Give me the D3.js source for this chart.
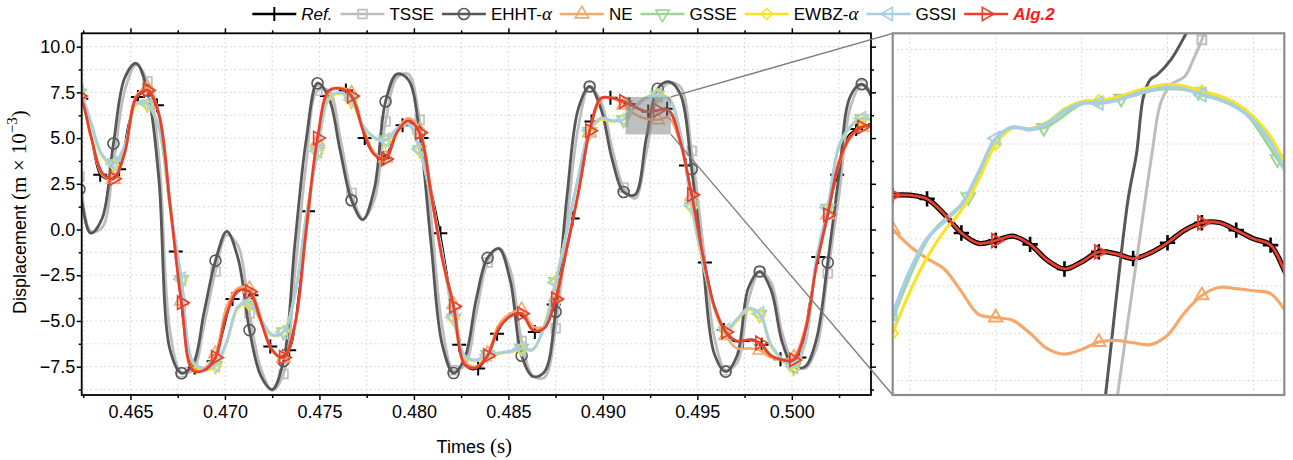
<!DOCTYPE html>
<html><head><meta charset="utf-8">
<script src="https://cdn.jsdelivr.net/npm/d3@7/dist/d3.min.js"></script>
<style>
html,body{margin:0;padding:0;background:#fff;}
svg{display:block;font-family:"Liberation Sans",Arial,Helvetica,sans-serif;}
</style></head><body>
<svg id="chart" width="1293" height="460"></svg>
<script>
// ---------------- DATA ----------------
// main panel sampling (s)
const mainTimes=[0.4617,0.4623,0.4629,0.4635,0.4641,0.4647,0.4653,0.4659,0.4665,0.4671,0.4677,0.4683,0.4689,0.4695,0.4701,0.4707,0.4713,0.4719,0.4725,0.4731,0.4737,0.4743,0.4749,0.4755,0.4761,0.4767,0.4773,0.4779,0.4785,0.4791,0.4797,0.4803,0.4809,0.4815,0.4821,0.4827,0.4833,0.4839,0.4845,0.4851,0.4857,0.4863,0.4869,0.4875,0.4881,0.4887,0.4893,0.4899,0.4905,0.4911,0.4917,0.4923,0.4929,0.4935,0.4941,0.4947,0.4953,0.4959,0.4965,0.4971,0.4977,0.4983,0.4989,0.4995,0.5001,0.5007,0.5013,0.5019,0.5025,0.5031,0.5037,0.5043,0.5049];
const refTimes=[0.4614,0.4619,0.4624,0.4629,0.4634,0.4639,0.4644,0.4649,0.4654,0.4659,0.4664,0.4669,0.4674,0.4679,0.4684,0.4689,0.4694,0.4699,0.4704,0.4709,0.4714,0.4719,0.4724,0.4729,0.4734,0.4739,0.4744,0.4749,0.4754,0.4759,0.4764,0.4769,0.4774,0.4779,0.4784,0.4789,0.4794,0.4799,0.4804,0.4809,0.4814,0.4819,0.4824,0.4829,0.4834,0.4839,0.4844,0.4849,0.4854,0.4859,0.4864,0.4869,0.4874,0.4879,0.4884,0.4889,0.4894,0.4899,0.4904,0.4909,0.4914,0.4919,0.4924,0.4929,0.4934,0.4939,0.4944,0.4949,0.4954,0.4959,0.4964,0.4969,0.4974,0.4979,0.4984,0.4989,0.4994,0.4999,0.5004,0.5009,0.5014,0.5019,0.5024,0.5029,0.5034,0.5039,0.5044,0.5049];
// displacement (m x 1e-3)
const refMain=[7.9,7.6,7.15,5.15,3.0,2.75,3.3,5.8,7.25,7.55,6.8,3.0,-1.2,-5.8,-7.55,-7.6,-7.2,-5.6,-3.8,-3.3,-3.6,-5.0,-6.4,-6.95,-6.6,-3.5,1.0,4.8,7.3,7.75,7.6,7.0,5.0,4.1,3.9,4.9,5.7,5.8,5.0,2.3,-0.2,-3.3,-6.3,-7.6,-7.6,-6.9,-5.7,-4.9,-4.6,-4.9,-5.6,-5.4,-4.1,-1.8,0.6,3.0,5.9,7.2,7.2,7.05,6.85,6.6,6.45,6.5,6.6,5.6,3.5,0.9,-1.8,-4.2,-5.5,-6.1,-6.1,-6.0,-6.3,-6.9,-7.1,-7.13,-7.0,-4.2,-1.5,0.8,3.0,5.0,5.5,5.7,5.75,5.75];
const tsseMain=[5.8,2.9,-0.1,0.1,3.6,7.6,9.0,8.1,4.0,-5.6,-7.8,-7.7,-5.2,-2.3,-0.3,-0.9,-4.6,-7.6,-8.8,-7.9,-2.4,3.6,7.6,7.6,5.0,2.0,0.6,1.6,5.9,8.3,8.5,6.0,0.8,-5.3,-7.7,-7.4,-4.6,-1.8,-1.0,-2.2,-6.1,-8.0,-8.1,-5.4,0.4,5.6,7.8,7.0,4.4,2.3,1.7,4.2,7.3,8.0,7.8,4.3,-0.8,-5.9,-7.7,-7.3,-3.9,-2.3,-2.9,-5.7,-7.3,-7.6,-6.5,-2.4,1.9,6.7,7.9,7.4,5.6];
const ehhtMain=[5.5,2.2,-0.2,0.6,4.7,8.3,9.09,7.6,2.8,-6.6,-7.86,-7.4,-4.5,-1.7,-0.1,-1.6,-5.5,-8.0,-8.75,-7.2,-0.8,4.9,8.0,7.2,4.3,1.6,0.53,2.2,7.0,8.5,8.2,5.3,-0.7,-6.3,-7.85,-7.0,-3.8,-1.55,-1.05,-2.8,-6.9,-8.04,-7.8,-4.5,1.8,6.6,7.82,6.6,3.8,2.05,1.9,5.0,7.7,8.08,7.4,3.3,-1.9,-6.8,-7.77,-6.9,-3.2,-2.3,-3.3,-6.2,-7.5,-7.5,-6.0,-1.8,3.0,7.3,7.95,7.1,5.0];
const neMain=[7.6,7.3,5.1,3.0,2.75,4.3,7.3,7.75,6.4,1.5,-3.9,-7.6,-7.6,-6.8,-4.2,-3.2,-3.25,-4.8,-6.6,-7.05,-5.3,-0.2,4.8,7.5,7.75,7.45,5.6,4.2,3.9,5.4,6.1,5.45,2.2,-1.5,-4.1,-7.2,-7.5,-6.8,-5.2,-4.6,-4.4,-5.3,-5.3,-3.7,-1.0,2.0,5.3,7.1,7.2,6.8,6.3,6.05,6.0,6.1,4.7,1.8,-1.5,-4.3,-5.8,-6.5,-6.5,-6.6,-7.0,-7.1,-7.0,-5.4,-1.9,0.8,3.6,5.0,5.6,5.75,5.8];
const gsseMain=[7.75,7.45,5.85,4.05,3.6,4.55,6.85,6.85,5.55,1.15,-2.75,-7.25,-7.65,-7.45,-6.15,-4.25,-4.05,-4.95,-5.8,-5.6,-3.55,0.75,4.25,7.15,7.45,7.05,5.65,5.0,4.9,5.5,5.8,4.35,1.75,-1.35,-4.85,-6.95,-7.15,-6.85,-6.75,-6.7,-6.5,-6.55,-5.25,-2.85,-0.05,2.85,5.35,6.05,5.95,6.0,6.7,7.2,7.35,7.15,5.25,1.25,-1.85,-4.3,-5.55,-4.95,-4.35,-4.65,-6.35,-7.15,-7.55,-6.25,-1.65,1.15,4.55,5.6,6.05,6.0,5.9];
const ewbzMain=[7.7,7.4,5.8,4.0,3.55,4.5,6.8,6.8,5.5,1.1,-2.8,-7.3,-7.7,-7.5,-6.2,-4.3,-4.1,-5.0,-5.8,-5.55,-3.5,0.8,4.2,7.1,7.45,7.0,5.6,5.0,4.85,5.45,5.75,4.3,1.7,-1.4,-4.9,-7.0,-7.2,-6.9,-6.8,-6.7,-6.55,-6.6,-5.2,-2.8,0.0,2.8,5.3,6.0,5.9,6.05,6.75,7.25,7.4,7.2,5.2,1.2,-1.9,-4.3,-5.6,-5.0,-4.4,-4.7,-6.4,-7.2,-7.6,-6.3,-1.7,1.1,4.5,5.6,6.0,5.95,5.85];
const gssiMain=[7.8,7.5,5.9,4.1,3.6,4.6,6.9,6.88,5.6,1.2,-2.7,-7.2,-7.6,-7.4,-6.1,-4.2,-4.0,-4.9,-5.75,-5.6,-3.6,0.7,4.3,7.2,7.48,7.1,5.7,5.05,4.9,5.5,5.8,4.4,1.8,-1.3,-4.8,-6.9,-7.13,-6.85,-6.75,-6.65,-6.5,-6.55,-5.3,-2.9,-0.1,2.9,5.4,6.1,5.95,6.0,6.7,7.2,7.35,7.15,5.3,1.3,-1.8,-4.25,-5.5,-4.9,-4.3,-4.6,-6.3,-7.1,-7.5,-6.2,-1.6,1.2,4.6,5.65,6.08,6.0,5.9];
const alg2Main=[7.6,7.3,5.15,3.1,2.78,4.2,7.2,7.62,6.3,1.3,-4.0,-7.7,-7.7,-7.0,-4.6,-3.35,-3.4,-5.0,-6.6,-7.0,-5.2,0.0,5.0,7.6,7.7,7.3,5.45,4.1,3.85,5.3,5.95,5.3,2.0,-1.6,-4.2,-7.4,-7.55,-6.9,-5.4,-4.75,-4.6,-5.5,-5.4,-3.8,-1.0,2.0,5.4,7.18,7.18,7.0,6.7,6.45,6.52,6.5,4.8,1.9,-1.45,-4.2,-5.6,-6.1,-6.04,-6.2,-6.9,-7.13,-7.13,-5.6,-2.0,0.8,3.7,5.1,5.6,5.72,5.75];

// inset (zoomed) panel
const insetTimes=[0.4914,0.4915,0.4916,0.4917,0.4918,0.4919,0.4920,0.4921,0.4922,0.4923,0.4924,0.4925,0.4926,0.4927,0.4928,0.4929,0.4930,0.4931,0.4932,0.4933,0.4934,0.4935,0.4936,0.4937,0.4938];
const refInset=[6.23,6.23,6.21,6.13,6.03,5.975,5.99,6.013,5.97,5.886,5.84,5.877,5.93,5.92,5.895,5.925,5.978,6.045,6.084,6.085,6.045,6.0,5.966,5.8,5.68];
const alg2Inset=[6.23,6.23,6.21,6.13,6.03,5.975,5.99,6.013,5.97,5.886,5.84,5.877,5.93,5.92,5.895,5.925,5.978,6.045,6.084,6.085,6.045,6.0,5.966,5.8,5.68];
const neInset=[6.05,5.96,5.895,5.84,5.72,5.6,5.583,5.568,5.5,5.419,5.39,5.415,5.454,5.463,5.45,5.44,5.49,5.61,5.7,5.742,5.736,5.725,5.71,5.6,5.45];
const gssiInset=[5.6,5.83,6.0,6.09,6.18,6.35,6.53,6.59,6.575,6.61,6.675,6.715,6.716,6.73,6.76,6.785,6.8,6.79,6.76,6.735,6.695,6.625,6.51,6.33,6.15];
const ewbzInset=[5.5,5.72,5.9,6.04,6.15,6.31,6.5,6.585,6.58,6.615,6.685,6.725,6.73,6.745,6.775,6.8,6.815,6.805,6.78,6.755,6.715,6.645,6.54,6.37,6.2];
const gsseInsetTimes=[0.49139,0.49162,0.49184,0.49206,0.49228,0.49251,0.49273,0.49296,0.49318,0.49341,0.49364,0.49386];
const gsseInset=[5.55,6.02,6.22,6.57,6.585,6.715,6.74,6.79,6.775,6.7,6.42,6.1];
const ehhtInsetTimes=[0.4925,0.49264,0.49277,0.49282,0.49286,0.4929,0.49294,0.49302,0.49311,0.4932];
const ehhtInset=[4.1,5.18,6.204,6.451,6.751,6.84,6.866,6.946,7.087,7.25];
const tsseInsetTimes=[0.4926,0.49271,0.49287,0.49291,0.49296,0.49302,0.4931,0.49315,0.4932,0.4933];
const tsseInset=[4.45,5.18,6.204,6.451,6.716,6.813,6.857,6.946,7.05,7.3];

// axes
const xMajorTicks=[0.465,0.470,0.475,0.480,0.485,0.490,0.495,0.500];
const xMinorTicks=[0.4625,0.4675,0.4725,0.4775,0.4825,0.4875,0.4925,0.4975,0.5025];
const yMajorTicks=[-7.5,-5,-2.5,0,2.5,5,7.5,10];
const yMinorTicks=[-8.75,-6.25,-3.75,-1.25,1.25,3.75,6.25,8.75];
const insetGridX=[0.4915,0.4920,0.4925,0.4930,0.4935];
const insetGridY=[5.25,5.5,5.75,6.0,6.25,6.5,6.75,7.0];
const zoomBoxX=[0.4912,0.4936];
const zoomBoxY=[5.2,7.25];

// ---------------- DRAW ----------------
const svg=d3.select('#chart');
const P={l:81.7,t:33.3,r:871,b:395};
const I={l:892.7,t:33.3,r:1284.3,b:395};
const x=d3.scaleLinear().domain([0.46242,0.50419]).range([P.l,P.r]);
const y=d3.scaleLinear().domain([-9.05,10.73]).range([P.b,P.t]);
const xi=d3.scaleLinear().domain([0.4914,0.49368]).range([I.l,I.r]);
const yi=d3.scaleLinear().domain([5.174,7.085]).range([I.b,I.t]);

const defs=svg.append('defs');
defs.append('clipPath').attr('id','clipMain').append('rect')
  .attr('x',P.l).attr('y',P.t).attr('width',P.r-P.l).attr('height',P.b-P.t);
defs.append('clipPath').attr('id','clipInset').append('rect')
  .attr('x',I.l).attr('y',I.t).attr('width',I.r-I.l).attr('height',I.b-I.t);

const COL={ref:'#000000',tsse:'#bdbdbd',ehht:'#575757',ne:'#f5a86b',gsse:'#9fd497',ewbz:'#f8e424',gssi:'#a6cfe6',alg2:'#e8402c'};
const SERIF='"Liberation Serif","DejaVu Serif",serif';

function markerPath(type){
  if(type==='plus') return 'M-7,0H7M0,-7V7';
  if(type==='circle') return d3.symbol(d3.symbolCircle,95)();
  if(type==='square') return d3.symbol(d3.symbolSquare,78)();
  if(type==='diamond') return d3.symbol(d3.symbolSquare,62)();
  return d3.symbol(d3.symbolTriangle,78)();
}
const ROT={triUp:0,triDown:180,triLeft:-90,triRight:90,diamond:45,plus:0,circle:0,square:0};

function drawMarkers(g,pts,type,color,sw,sc){
  const p=markerPath(type);
  const s=sc||1;
  g.selectAll(null).data(pts).enter().append('path')
    .attr('d',p)
    .attr('transform',d=>`translate(${d[0]},${d[1]}) rotate(${ROT[type]}) scale(${s})`)
    .attr('fill','none').attr('stroke',color).attr('stroke-width',sw/s);
}

// --- main grid ---
const gGrid=svg.append('g');
xMajorTicks.concat(xMinorTicks).forEach(v=>{
  gGrid.append('line').attr('x1',x(v)).attr('x2',x(v)).attr('y1',P.t).attr('y2',P.b)
    .attr('stroke','#cfcfcf').attr('stroke-width',1).attr('stroke-dasharray','1.5,3');
});
yMajorTicks.concat(yMinorTicks).forEach(v=>{
  gGrid.append('line').attr('y1',y(v)).attr('y2',y(v)).attr('x1',P.l).attr('x2',P.r)
    .attr('stroke','#cfcfcf').attr('stroke-width',1).attr('stroke-dasharray','1.5,3');
});

const mainSeries=[
  {key:'ref',t:refTimes,v:refMain,mk:'plus',every:2,off:0,w:1.4,mw:2},
  {key:'tsse',t:mainTimes,v:tsseMain,mk:'square',every:3,off:1,w:2.8,mw:1.6},
  {key:'ehht',t:mainTimes,v:ehhtMain,mk:'circle',every:3,off:1,w:2.8,mw:1.6},
  {key:'ne',t:mainTimes,v:neMain,mk:'triUp',every:3,off:1,w:2.6,mw:1.6},
  {key:'gsse',t:mainTimes,v:gsseMain,mk:'triDown',every:3,off:1,w:2.4,mw:1.6},
  {key:'ewbz',t:mainTimes,v:ewbzMain,mk:'diamond',every:3,off:1,w:2.4,mw:1.6},
  {key:'gssi',t:mainTimes,v:gssiMain,mk:'triLeft',every:3,off:1,w:2.8,mw:1.6},
  {key:'alg2',t:mainTimes,v:alg2Main,mk:'triRight',every:3,off:1,w:2.8,mw:1.7}
];
const gMain=svg.append('g').attr('clip-path','url(#clipMain)');
mainSeries.forEach(s=>{
  const pts=d3.zip(s.t,s.v);
  const line=d3.line().x(d=>x(d[0])).y(d=>y(d[1])).curve(d3.curveCatmullRom.alpha(0.5));
  gMain.append('path').datum(pts).attr('d',line).attr('fill','none')
    .attr('stroke',COL[s.key]).attr('stroke-width',s.w).attr('stroke-linejoin','round');
  const mp=pts.filter((d,i)=>i%s.every===s.off).map(d=>[x(d[0]),y(d[1])]);
  drawMarkers(gMain,mp,s.mk,COL[s.key],s.mw);
});

// zoom box
svg.append('rect').attr('x',x(zoomBoxX[0])).attr('y',y(zoomBoxY[1]))
  .attr('width',x(zoomBoxX[1])-x(zoomBoxX[0])).attr('height',y(zoomBoxY[0])-y(zoomBoxY[1]))
  .attr('fill','#808080').attr('fill-opacity',0.5);

// main axes
const gAx=svg.append('g');
function axisG(axis,tr){
  const g=gAx.append('g').attr('transform',tr).call(axis);
  g.select('.domain').remove();
  g.selectAll('line').attr('stroke','#000').attr('stroke-width',1.5);
  g.selectAll('text').attr('font-size',18).attr('fill','#000')
    .attr('font-family','"Liberation Sans",Arial,Helvetica,sans-serif');
  return g;
}
const fmtX=d3.format('.3f'), fmtY=d3.format('.1f');
axisG(d3.axisBottom(x).tickValues(xMajorTicks).tickFormat(fmtX).tickSize(5).tickPadding(5),`translate(0,${P.b})`);
axisG(d3.axisBottom(x).tickValues(xMinorTicks).tickFormat('').tickSize(3),`translate(0,${P.b})`);
axisG(d3.axisTop(x).tickValues(xMajorTicks).tickFormat('').tickSize(5),`translate(0,${P.t})`);
axisG(d3.axisTop(x).tickValues(xMinorTicks).tickFormat('').tickSize(3),`translate(0,${P.t})`);
axisG(d3.axisLeft(y).tickValues(yMajorTicks).tickFormat(fmtY).tickSize(5).tickPadding(1.5),`translate(${P.l},0)`);
axisG(d3.axisLeft(y).tickValues(yMinorTicks).tickFormat('').tickSize(3),`translate(${P.l},0)`);
axisG(d3.axisRight(y).tickValues(yMajorTicks).tickFormat('').tickSize(5),`translate(${P.r},0)`);
axisG(d3.axisRight(y).tickValues(yMinorTicks).tickFormat('').tickSize(3),`translate(${P.r},0)`);
gAx.append('rect').attr('x',P.l).attr('y',P.t).attr('width',P.r-P.l).attr('height',P.b-P.t)
  .attr('fill','none').attr('stroke','#000').attr('stroke-width',1.8);

// axis titles
const yt=svg.append('text').attr('transform',`translate(26,${(P.t+P.b)/2-2}) rotate(-90)`)
  .attr('text-anchor','middle').attr('font-size',18).attr('fill','#000');
yt.append('tspan').text('Displacement ');
yt.append('tspan').attr('font-family',SERIF).attr('font-size',21).text('(m × 10');
yt.append('tspan').attr('font-family',SERIF).attr('font-size',15).attr('dy',-9).text('−3');
yt.append('tspan').attr('font-family',SERIF).attr('font-size',21).attr('dy',9).text(')');

const xt=svg.append('text').attr('x',(P.l+P.r)/2-2).attr('y',453)
  .attr('text-anchor','middle').attr('font-size',18).attr('fill','#000');
xt.append('tspan').text('Times ');
xt.append('tspan').attr('font-family',SERIF).attr('font-size',21).text('(s)');

// connector lines
svg.append('line').attr('x1',x(zoomBoxX[1])).attr('y1',y(zoomBoxY[1])).attr('x2',I.l).attr('y2',I.t)
  .attr('stroke','#7a7a7a').attr('stroke-width',1.3);
svg.append('line').attr('x1',x(zoomBoxX[1])).attr('y1',y(zoomBoxY[0])).attr('x2',I.l).attr('y2',I.b)
  .attr('stroke','#7a7a7a').attr('stroke-width',1.3);

// ---------------- INSET ----------------
svg.append('rect').attr('x',I.l).attr('y',I.t).attr('width',I.r-I.l).attr('height',I.b-I.t).attr('fill','#fff');
const gIG=svg.append('g');
insetGridX.forEach(v=>{
  gIG.append('line').attr('x1',xi(v)).attr('x2',xi(v)).attr('y1',I.t).attr('y2',I.b)
    .attr('stroke','#cfcfcf').attr('stroke-width',1).attr('stroke-dasharray','1.5,3');
});
insetGridY.forEach(v=>{
  gIG.append('line').attr('y1',yi(v)).attr('y2',yi(v)).attr('x1',I.l).attr('x2',I.r)
    .attr('stroke','#cfcfcf').attr('stroke-width',1).attr('stroke-dasharray','1.5,3');
});
const insetSeries=[
  {key:'ref',t:insetTimes,v:refInset,mk:'plus',every:2,off:0,w:5.2,mw:2.6,ms:1.1},
  {key:'tsse',t:tsseInsetTimes,v:tsseInset,mk:'square',every:100,off:8,w:3,mw:2},
  {key:'ehht',t:ehhtInsetTimes,v:ehhtInset,mk:'circle',every:100,off:99,w:3,mw:2},
  {key:'ne',t:insetTimes,v:neInset,mk:'triUp',every:6,off:0,w:3.2,mw:2},
  {key:'gsse',t:gsseInsetTimes,v:gsseInset,mk:'triDown',every:2,off:0,w:3,mw:2},
  {key:'ewbz',t:insetTimes,v:ewbzInset,mk:'diamond',every:6,off:0,w:3.2,mw:2},
  {key:'gssi',t:insetTimes,v:gssiInset,mk:'triLeft',every:6,off:0,w:3.6,mw:2},
  {key:'alg2',t:insetTimes,v:alg2Inset,mk:'triRight',every:6,off:0,w:2.8,mw:2}
];
const gIn=svg.append('g').attr('clip-path','url(#clipInset)');
insetSeries.forEach(s=>{
  const pts=d3.zip(s.t,s.v);
  const line=d3.line().x(d=>xi(d[0])).y(d=>yi(d[1])).curve(d3.curveCatmullRom.alpha(0.5));
  gIn.append('path').datum(pts).attr('d',line).attr('fill','none')
    .attr('stroke',COL[s.key]).attr('stroke-width',s.w).attr('stroke-linejoin','round');
  const mp=pts.filter((d,i)=>i%s.every===s.off).map(d=>[xi(d[0]),yi(d[1])]);
  drawMarkers(gIn.append('g'),mp,s.mk,COL[s.key],s.mw,s.ms);
});
svg.append('rect').attr('x',I.l).attr('y',I.t).attr('width',I.r-I.l).attr('height',I.b-I.t)
  .attr('fill','none').attr('stroke','#8c8c8c').attr('stroke-width',2.2);

// ---------------- LEGEND ----------------
const legendItems=[
  {key:'ref',mk:'plus',label:[{t:'Ref.',style:'italic'}]},
  {key:'tsse',mk:'square',label:[{t:'TSSE'}]},
  {key:'ehht',mk:'circle',label:[{t:'EHHT-'},{t:'α',serif:true}]},
  {key:'ne',mk:'triUp',label:[{t:'NE'}]},
  {key:'gsse',mk:'triDown',label:[{t:'GSSE'}]},
  {key:'ewbz',mk:'diamond',label:[{t:'EWBZ-'},{t:'α',serif:true}]},
  {key:'gssi',mk:'triLeft',label:[{t:'GSSI'}]},
  {key:'alg2',mk:'triRight',label:[{t:'Alg.2',style:'italic',weight:'bold',fill:'#ff1a1a'}]}
];
const gL=svg.append('g');
const LY=14, segLen=44, gapT=5, gapI=8;
let items=[];
legendItems.forEach(it=>{
  const g=gL.append('g');
  g.append('line').attr('x1',0).attr('x2',segLen).attr('y1',LY).attr('y2',LY)
    .attr('stroke',COL[it.key]).attr('stroke-width',it.key==='ref'?2.4:2.6);
  drawMarkers(g,[[segLen/2,LY]],it.mk,COL[it.key],it.key==='ref'?2:1.6);
  const tx=g.append('text').attr('x',segLen+gapT).attr('y',LY+6).attr('font-size',17).attr('fill','#000');
  it.label.forEach(l=>{
    const ts=tx.append('tspan').text(l.t);
    if(l.style) ts.attr('font-style',l.style);
    if(l.weight) ts.attr('font-weight',l.weight);
    if(l.fill) ts.attr('fill',l.fill);
    if(l.serif) ts.attr('font-family',SERIF).attr('font-style','italic').attr('font-size',19);
  });
  const w=segLen+gapT+tx.node().getComputedTextLength();
  items.push({g,w});
});
const total=d3.sum(items,d=>d.w)+gapI*(items.length-1);
let cx=653.5-total/2;
items.forEach(d=>{d.g.attr('transform',`translate(${cx},0)`);cx+=d.w+gapI;});
</script>
</body></html>
